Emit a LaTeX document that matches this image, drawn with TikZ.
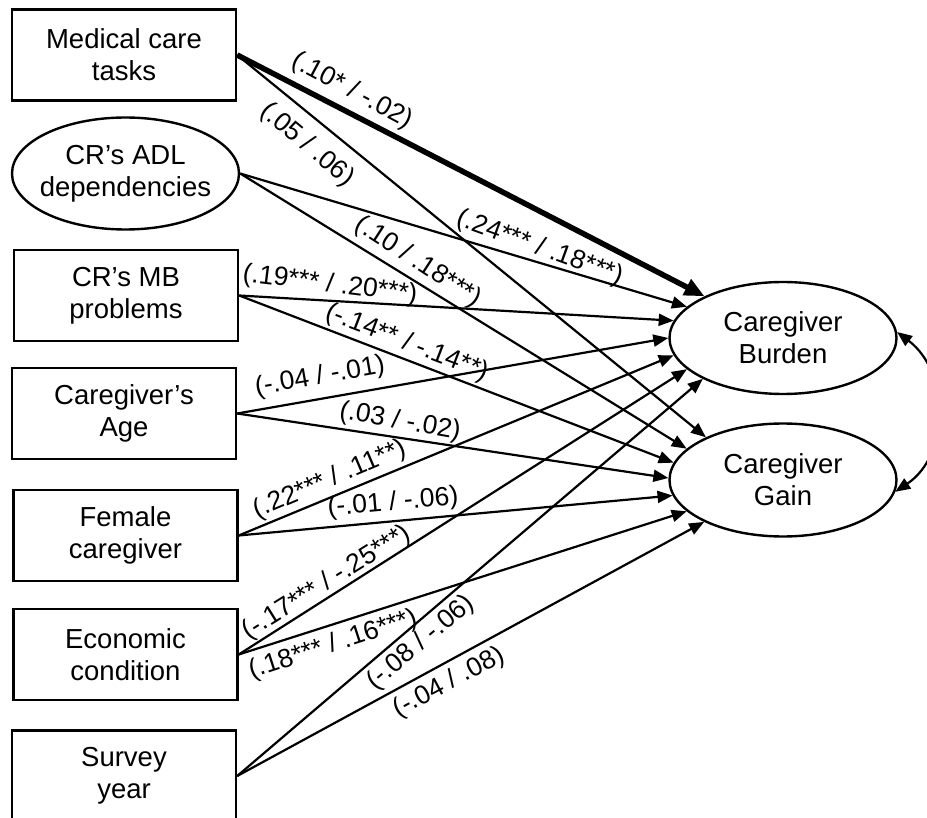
\documentclass[tikz,border=0pt]{standalone}
\usepackage{fontspec}
\setmainfont{Liberation Sans}
\usetikzlibrary{arrows.meta,shapes.geometric}
\begin{document}
\begin{tikzpicture}[x=1pt,y=-1pt,
  box/.style={draw,line width=2.4pt,rectangle,minimum width=224pt,minimum height=91pt,align=center,font=\fontsize{27.5}{32}\selectfont,inner sep=0pt},
  oval/.style={draw,line width=2.4pt,ellipse,minimum width=227pt,minimum height=112pt,align=center,font=\fontsize{27.5}{32}\selectfont,inner sep=0pt},
  conn/.style={line width=2.2pt,-{Triangle[length=15pt,width=12pt]}},
  boldconn/.style={line width=5.5pt,-{Triangle[length=20pt,width=17pt]}},
  twoway/.style={line width=2.2pt,{Triangle[length=15pt,width=12pt]}-{Triangle[length=15pt,width=12pt]}},
  lbl/.style={font=\fontsize{26.5}{30}\selectfont,inner sep=0pt}
]
\useasboundingbox (0,0) rectangle (927,818);

% sources
\node[box] (med) at (124,55) {Medical care\\tasks};
\node[oval,inner xsep=-6pt] (adl) at (125.5,173.5) {CR’s ADL\\dependencies};
\node[box] (mb) at (126,295.5) {CR’s MB\\problems};
\node[box] (age) at (124,413.5) {Caregiver’s\\Age};
\node[box] (fem) at (125.5,535.5) {Female\\caregiver};
\node[box] (eco) at (125.5,654.5) {Economic\\condition};
\node[box] (sur) at (124,776) {Survey\\year};

% outcomes
\node[oval] (bur) at (783,338) {Caregiver\\Burden};
\node[oval,minimum height=113pt] (gain) at (783,480) {Caregiver\\Gain};

% connectors to burden
\draw[boldconn] (med.east) -- (bur.152);
\draw[conn] (adl.east) -- (bur.162);
\draw[conn] (mb.east) -- (bur.171);
\draw[conn] (age.east) -- (bur.180);
\draw[conn] (fem.east) -- (bur.189);
\draw[conn] (eco.east) -- (bur.198);
\draw[conn] (sur.east) -- (bur.207);

% connectors to gain
\draw[conn] (med.east) -- (gain.151);
\draw[conn] (adl.east) -- (gain.162);
\draw[conn] (mb.east) -- (gain.171);
\draw[conn] (age.east) -- (gain.179);
\draw[conn] (fem.east) -- (gain.188);
\draw[conn] (eco.east) -- (gain.198);
\draw[conn] (sur.east) -- (gain.208);

% covariance
\draw[twoway] (bur.3) .. controls (950,372) and (950,455) .. (gain.-6);

% labels
\node[lbl,rotate=-28] (l1) at (352,91) {(.10* / -.02)};
\node[lbl,rotate=-40] (l2) at (307,145) {(.05 / .06)};
\node[lbl,rotate=-20] (l3) at (540,248) {(.24*** / .18***)};
\node[lbl,rotate=-33] (l4) at (418,262) {(.10 / .18***)};
\node[lbl,rotate=-7] (l5) at (330,285) {(.19*** / .20***)};
\node[lbl,rotate=-21] (l6) at (407,343) {(-.14** / -.14**)};
\node[lbl,rotate=10] (l7) at (320,377) {(-.04 / -.01)};
\node[lbl,rotate=-10] (l8) at (400,422) {(.03 / -.02)};
\node[lbl,rotate=23] (l9) at (330,480) {(.22*** / .11**)};
\node[lbl,rotate=5] (l10) at (393,503) {(-.01 / -.06)};
\node[lbl,rotate=32] (l11) at (327,583) {(-.17*** / -.25***)};
\node[lbl,rotate=18] (l12) at (333,645) {(.18*** / .16***)};
\node[lbl,rotate=40] (l13) at (421,643) {(-.08 / -.06)};
\node[lbl,rotate=28] (l14) at (449,683) {(-.04 / .08)};
\end{tikzpicture}
\end{document}
